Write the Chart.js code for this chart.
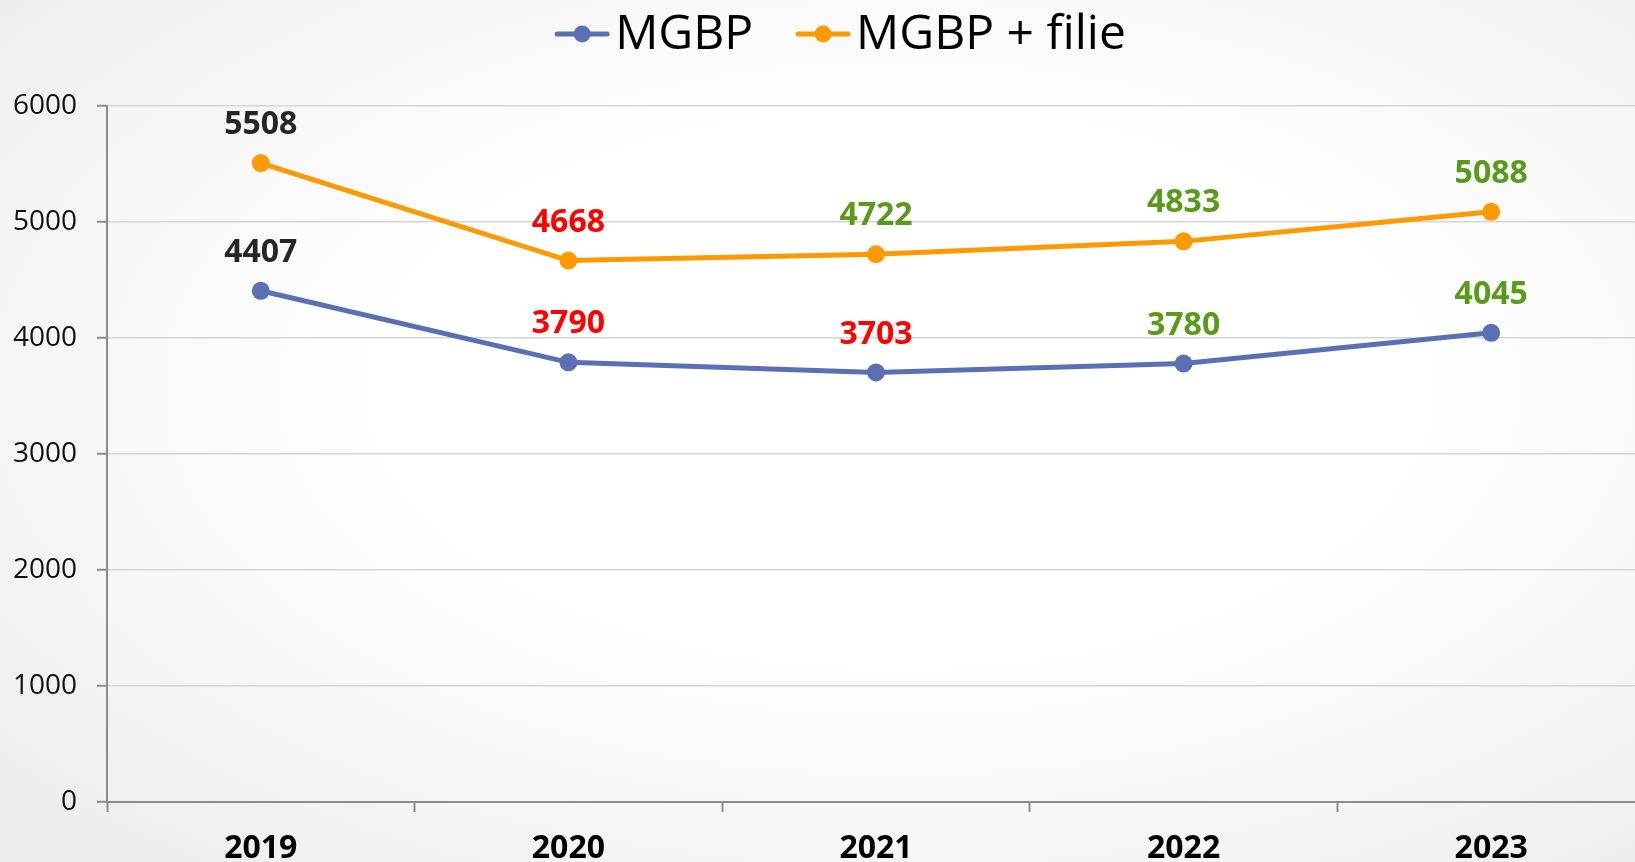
<!DOCTYPE html>
<html>
<head>
<meta charset="utf-8">
<script src="https://cdn.jsdelivr.net/npm/chart.js@4"></script>
<style>
  html, body { margin: 0; padding: 0; overflow: hidden; }
  body {
    width: 1635px; height: 862px;
    background: radial-gradient(ellipse farthest-corner at 55% 45%, #ffffff 40%, #ebebeb 100%);
  }
  #wrap { width: 1654px; height: 880px; position: relative; }
</style>
</head>
<body>
<div id="wrap"><canvas id="myChart"></canvas></div>
<script>
const years = ['2019', '2020', '2021', '2022', '2023'];
const mgbp = [4407, 3790, 3703, 3780, 4045];
const mgbpFilie = [5508, 4668, 4722, 4833, 5088];
const mgbpLabelColors = ['#262626', '#ff0000', '#ff0000', '#5a9a1a', '#5a9a1a'];
const filieLabelColors = ['#262626', '#ff0000', '#5a9a1a', '#5a9a1a', '#5a9a1a'];
const yTicks = [0, 1000, 2000, 3000, 4000, 5000, 6000];

const BLUE = '#5b70b4';
const ORANGE = '#ff9900';

// value labels above every point
const valueLabels = {
    id: 'valueLabels',
    afterDatasetsDraw(chart) {
        const ctx = chart.ctx;
        ctx.save();
        ctx.font = 'bold 32px "Open Sans"';
        ctx.textAlign = 'center';
        ctx.textBaseline = 'middle';
        chart.data.datasets.forEach((ds, d) => {
            const meta = chart.getDatasetMeta(d);
            meta.data.forEach((pt, i) => {
                ctx.fillStyle = ds.labelColors[i];
                ctx.fillText(ds.data[i], pt.x, pt.y - 38);
            });
        });
        ctx.restore();
    }
};

// legend drawn as line + dot like the original
const lineLegend = {
    id: 'lineLegend',
    afterDraw(chart) {
        const ctx = chart.ctx;
        ctx.save();
        ctx.font = '48px "Open Sans"';
        ctx.textBaseline = 'middle';
        const symW = 54, gapText = 6, gapItem = 43;
        const items = chart.data.datasets.map(ds => ({ text: ds.label, color: ds.borderColor }));
        let total = 0;
        items.forEach((it, i) => {
            it.w = symW + gapText + ctx.measureText(it.text).width;
            total += it.w + (i > 0 ? gapItem : 0);
        });
        let x = 1635 / 2 - total / 2 + 23;
        const y = 34;
        items.forEach(it => {
            ctx.strokeStyle = it.color;
            ctx.lineWidth = 5;
            ctx.lineCap = 'round';
            ctx.beginPath();
            ctx.moveTo(x + 2, y);
            ctx.lineTo(x + symW - 2, y);
            ctx.stroke();
            ctx.fillStyle = it.color;
            ctx.beginPath();
            ctx.arc(x + symW / 2, y, 8.5, 0, Math.PI * 2);
            ctx.fill();
            ctx.fillStyle = '#000';
            ctx.fillText(it.text, x + symW + gapText, y + 1);
            x += it.w + gapItem;
        });
        ctx.restore();
    }
};

function renderChart() {
    const ctx = document.getElementById('myChart');

    new Chart(ctx, {
        type: 'line',
        data: {
            labels: years,
            datasets: [{
                label: 'MGBP',
                data: mgbp,
                labelColors: mgbpLabelColors,
                borderColor: BLUE,
                backgroundColor: BLUE,
                borderWidth: 5,
                pointRadius: 9,
                pointHoverRadius: 9,
                pointBorderWidth: 0,
                tension: 0
            }, {
                label: 'MGBP + filie',
                data: mgbpFilie,
                labelColors: filieLabelColors,
                borderColor: ORANGE,
                backgroundColor: ORANGE,
                borderWidth: 5,
                pointRadius: 9,
                pointHoverRadius: 9,
                pointBorderWidth: 0,
                tension: 0
            }]
        },
        options: {
            responsive: true,
            maintainAspectRatio: false,
            animation: false,
            layout: { padding: { top: 106, right: 0, left: 0, bottom: 0 } },
            plugins: {
                legend: { display: false },
                tooltip: { enabled: false }
            },
            scales: {
                x: {
                    offset: true,
                    grid: {
                        offset: true,
                        drawOnChartArea: false,
                        tickLength: 10,
                        tickColor: '#8c8c8c',
                        tickWidth: 2
                    },
                    border: { color: '#8c8c8c', width: 2 },
                    ticks: {
                        color: '#000',
                        font: { family: '"Open Sans"', size: 32, weight: 'bold' },
                        padding: 18
                    },
                    afterFit(scale) { scale.height = 78; }
                },
                y: {
                    min: 0,
                    max: 6000,
                    afterBuildTicks(scale) { scale.ticks = yTicks.map(v => ({ value: v })); },
                    grid: {
                        color: '#d3d5dc',
                        lineWidth: 1.5,
                        tickLength: 10,
                        tickColor: '#8c8c8c',
                        tickWidth: 2
                    },
                    border: { color: '#8c8c8c', width: 2 },
                    ticks: {
                        color: '#111',
                        font: { family: '"Open Sans"', size: 28 },
                        padding: 20,
                        callback: v => String(v)
                    },
                    afterFit(scale) { scale.width = 107; }
                }
            }
        },
        plugins: [valueLabels, lineLegend]
    });
}

renderChart();
</script>
</body>
</html>
